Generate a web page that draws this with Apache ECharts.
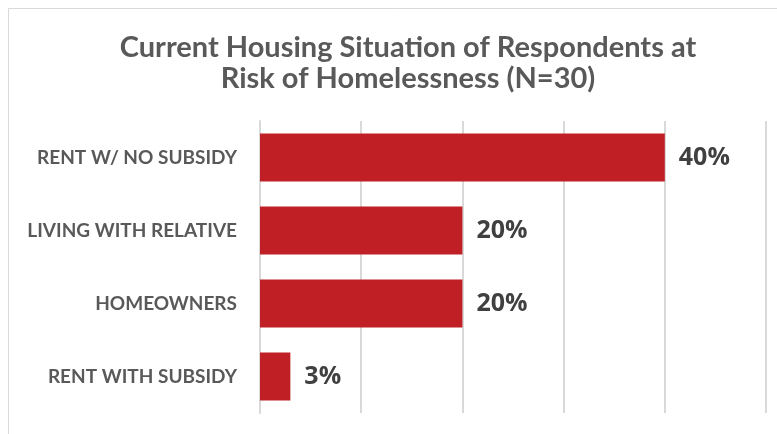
<!DOCTYPE html>
<html>
<head>
<meta charset="utf-8">
<script src="https://cdn.jsdelivr.net/npm/echarts@6/dist/echarts.min.js"></script>
<style>
  html, body { margin: 0; padding: 0; background: #ffffff; }
  #chart { width: 777px; height: 434px; }
</style>
</head>
<body>
<div id="chart"></div>
<script>
// Housing situation categories, listed top to bottom
const categories = ['RENT W/ NO SUBSIDY', 'LIVING WITH RELATIVE', 'HOMEOWNERS', 'RENT WITH SUBSIDY'];
// Share of respondents (%)
const shares = [40, 20, 20, 3];
// Value axis extent (%)
const axisMax = 50;
const axisStep = 10;

const chart = echarts.init(document.getElementById('chart'), null, { renderer: 'canvas' });

chart.setOption({
  backgroundColor: '#ffffff',
  animation: false,
  graphic: [{
    type: 'rect',
    shape: { x: 8.5, y: 8.5, width: 800, height: 500 },
    style: { fill: 'none', stroke: '#d9d9d9', lineWidth: 1 },
    silent: true
  }],
  title: {
    text: 'Current Housing Situation of Respondents at\nRisk of Homelessness (N=30)',
    left: 403,
    textAlign: 'center',
    top: 27,
    textStyle: {
      fontFamily: 'Lato',
      fontWeight: 'bold',
      fontSize: 29,
      lineHeight: 31,
      color: '#595959'
    }
  },
  grid: { left: 260, right: 11, top: 121, bottom: 21, containLabel: false },
  xAxis: {
    type: 'value',
    min: 0,
    max: axisMax,
    interval: axisStep,
    axisLabel: { show: false },
    axisTick: { show: false },
    axisLine: { show: false },
    splitLine: { show: true, lineStyle: { color: '#d9d9d9', width: 2 } }
  },
  yAxis: {
    type: 'category',
    data: categories,
    inverse: true,
    axisTick: { show: false },
    axisLine: { show: true, lineStyle: { color: '#d9d9d9', width: 2 } },
    axisLabel: {
      margin: 23,
      fontFamily: 'Lato',
      fontWeight: 'bold',
      fontSize: 19,
      color: '#595959'
    }
  },
  series: [{
    type: 'bar',
    data: shares,
    barCategoryGap: '34%',
    itemStyle: { color: '#c01f26' },
    label: {
      show: true,
      position: 'right',
      distance: 14,
      formatter: '{c}%',
      fontFamily: 'Open Sans',
      fontWeight: 'bold',
      fontSize: 25,
      color: '#404040'
    }
  }]
});
</script>
</body>
</html>
